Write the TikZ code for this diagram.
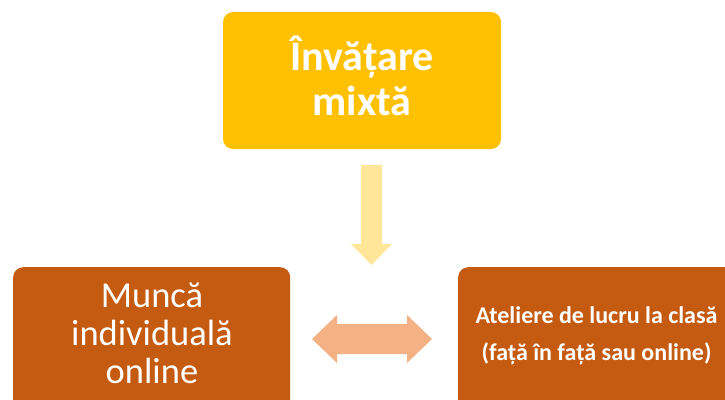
\documentclass[tikz,border=0pt]{standalone}
\usepackage{fontspec}
\setmainfont{Carlito}
\definecolor{topgold}{HTML}{FFC000}
\definecolor{rust}{HTML}{C55A11}
\definecolor{paleyellow}{HTML}{FFE699}
\definecolor{peach}{HTML}{F4B183}
\begin{document}
\begin{tikzpicture}[x=1pt,y=-1pt,
  boxstyle/.style={rectangle, rounded corners=10pt, inner sep=0pt, text=white, align=center},
  labelstyle/.style={text=white, align=center, inner sep=0pt, anchor=base},
]
\useasboundingbox (0,0) rectangle (725,399);
\clip (0,0) rectangle (725,399);
% top box
\node[boxstyle, fill=topgold, minimum width=278pt, minimum height=137pt] (top) at (362,80.5) {};
\node[labelstyle, font=\fontsize{42}{45}\selectfont\bfseries] (toptext) at (362,115) {Învățare\\mixtă};
% left box
\node[boxstyle, fill=rust, minimum width=277pt, minimum height=150pt, anchor=north west] (left) at (13,267) {};
\node[labelstyle, font=\fontsize{36.5}{38}\selectfont] (lefttext) at (152,383)
  {Muncă\\individuală\\online};
% right box
\node[boxstyle, fill=rust, minimum width=290pt, minimum height=150pt, anchor=north west] (right) at (458,267) {};
\node[labelstyle, font=\fontsize{24}{37}\selectfont\bfseries] (righttext) at (596.5,360)
  {Ateliere de lucru la clasă\\(față în față sau online)};
% down arrow
\fill[paleyellow] (361,165) -- (382,165) -- (382,244) -- (392,244) -- (371.5,265) -- (351,244) -- (361,244) -- cycle;
% double arrow
\fill[peach] (312,339) -- (337,315) -- (337,324) -- (407,324) -- (407,315) -- (432,339) -- (407,363) -- (407,354) -- (337,354) -- (337,363) -- cycle;
\end{tikzpicture}
\end{document}
